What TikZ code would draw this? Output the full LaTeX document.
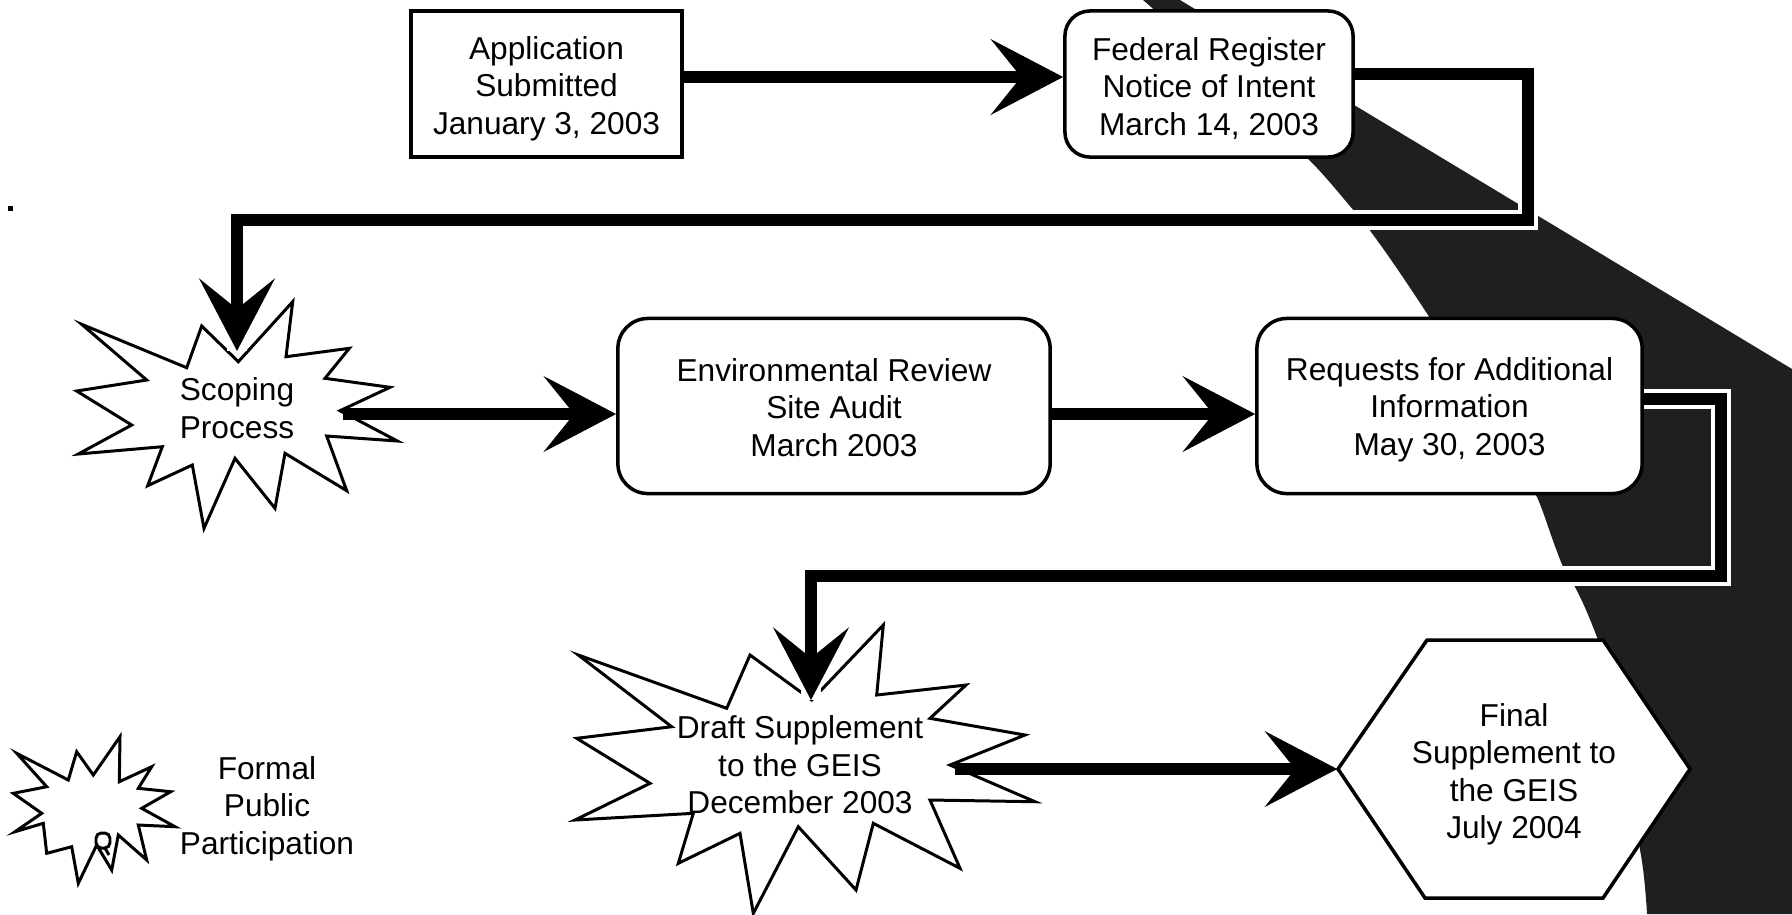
\documentclass[tikz,border=0pt]{standalone}
\usepackage{fontspec}
\setmainfont{Liberation Sans}
\usetikzlibrary{arrows.meta,calc}
\begin{document}
\begin{tikzpicture}[x=0.01cm,y=-0.01cm,
  lbl/.style={align=center,inner sep=0pt,font=\fontsize{9pt}{10.67pt}\selectfont},
  boxline/.style={draw=black,line width=1pt,fill=white},
  starline/.style={draw=black,line width=0.85pt,fill=white,line join=miter},
  conn/.style={draw=black,line width=3.4pt,-{Stealth[length=0.72cm,width=0.75cm,inset=0.3cm]}},
  haloed/.style={preaction={draw=white,line width=5.8pt,-}},
  dark/.style={fill=black!88}]
\useasboundingbox (0,0) rectangle (1792,914);
% dark background region
\fill[dark] (1143,0) -- (1180,0) -- (1792,369) -- (1792,914) -- (1647,914)
  .. controls (1645,880) and (1642,860) .. (1640,850)
  .. controls (1630,760) and (1615,690) .. (1598,640)
  .. controls (1585,605) and (1575,585) .. (1563,567)
  .. controls (1550,535) and (1545,515) .. (1537,497)
  .. controls (1500,430) and (1460,365) .. (1428,315)
  .. controls (1405,280) and (1385,250) .. (1362,220)
  .. controls (1340,195) and (1325,175) .. (1307,158)
  .. controls (1250,100) and (1195,45) .. (1143,0) -- cycle;
% stray dot
\fill (8,206) rectangle (13,211);
% Scoping star
\draw[starline] (238.3,361.7) -- (292.7,301.7) -- (286,356.7) -- (349.3,348.3) -- (325,378.3)
  -- (390,387.3) -- (340,410.7) -- (397.3,441) -- (326.7,436) -- (346.7,490.7) -- (285,453.3)
  -- (275,508.3) -- (235,458.3) -- (204,528.3) -- (192.3,465) -- (147.7,485.7) -- (162.3,446.7)
  -- (78.3,454) -- (131.7,425) -- (76.7,391) -- (146.7,380) -- (81.7,324.3) -- (186.7,367.7)
  -- (201.7,326) -- cycle;
% Draft star
\draw[starline] (811.7,700) -- (883.3,625) -- (876.7,695) -- (966,685) -- (930,718.3)
  -- (1025,735) -- (950,765) -- (1035,801.7) -- (930,800) -- (960,868.3) -- (873.3,823.3)
  -- (856,890) -- (798.3,826.7) -- (753.3,913.3) -- (740,833.3) -- (678.3,863.3) -- (693.3,813.3)
  -- (575,820) -- (650,783.3) -- (576.7,738.3) -- (671.7,726.7) -- (578.3,655) -- (726.7,708.3)
  -- (750,655) -- cycle;
% Legend star
\draw[starline] (16.7,753.3) -- (68.3,780) -- (76.7,751.7) -- (93.3,775) -- (120,736.7)
  -- (119.3,781.7) -- (151.7,766.7) -- (138.3,788.3) -- (170.7,791.7) -- (141.7,808.3)
  -- (175,826.7) -- (138.3,825) -- (146.7,860) -- (118.3,835) -- (111.7,870) -- (96.7,845)
  -- (78.3,883.3) -- (71.7,846.7) -- (46.7,853.3) -- (43.3,823.3) -- (15,831.7) -- (41.7,813.3)
  -- (13.3,793.3) -- (46.7,786.7) -- cycle;
\draw[line width=0.85pt,rounded corners=1.5pt] (96,833) rectangle (110,848);
\draw[line width=0.85pt] (105,848) -- (109,855);
% Final hexagon
\draw[boxline] (1338,769) -- (1427,640) -- (1603,640) -- (1690,769) -- (1603,898) -- (1425,898) -- cycle;
% boxes
\node[boxline,minimum width=2.71cm,minimum height=1.46cm,
  label={[lbl,yshift=-0.045cm]center:{Application\\Submitted\\January 3, 2003}}] (app) at (546.5,84) {};
\node[boxline,rounded corners=0.25cm,minimum width=2.88cm,minimum height=1.46cm,
  label={[lbl,yshift=-0.045cm]center:{Federal Register\\Notice of Intent\\March 14, 2003}}] (fed) at (1209,84) {};
\node[boxline,rounded corners=0.3cm,minimum width=4.32cm,minimum height=1.75cm,
  label={[lbl,yshift=-0.015cm]center:{Environmental Review\\Site Audit\\March 2003}}] (env) at (834,406) {};
\node[boxline,rounded corners=0.3cm,minimum width=3.85cm,minimum height=1.75cm,
  label={[lbl,yshift=-0.035cm]center:{Requests for Additional\\Information\\May 30, 2003}}] (req) at (1449.5,406) {};
% star and hexagon labels
\node[lbl] (scope) at (237,408) {Scoping\\Process};
\node[lbl] (draft) at (800,765) {Draft Supplement\\to the GEIS\\December 2003};
\node[lbl] (legend) at (267,808.5) {Formal\\Public\\Participation};
\node[lbl,minimum width=3.52cm] (final) at (1514,774.5) {Final\\Supplement to\\the GEIS\\July 2004};
% connector end points on the stars
\coordinate (scopeTop) at (237,351);
\coordinate (scopeR) at (343,414);
\coordinate (draftTop) at (811,700);
\coordinate (draftR) at (955,769);
% connectors
\draw[conn] ([yshift=0.07cm]app.east) -- ([yshift=0.07cm]fed.west);
\draw[conn,haloed] ([yshift=0.1cm]fed.east) -| (1528,220) -| (scopeTop);
\draw[conn] (scopeR) -- (scopeR -| env.west);
\draw[conn] (scopeR -| env.east) -- (scopeR -| req.west);
\draw[conn,haloed] ([yshift=0.07cm]req.east) -| (1721,576) -| (draftTop);
\draw[conn] (draftR) -- (draftR -| final.west);
\end{tikzpicture}
\end{document}
